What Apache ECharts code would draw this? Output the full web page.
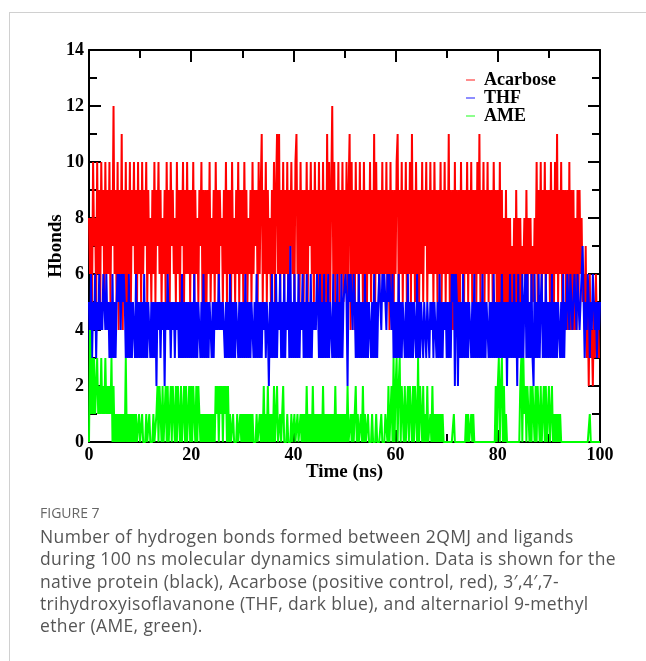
<!DOCTYPE html>
<html>
<head>
<meta charset="utf-8">
<script src="https://cdn.jsdelivr.net/npm/echarts@6/dist/echarts.min.js"></script>
<style>
  html,body{margin:0;padding:0;background:#fff;}
  #frame{position:absolute;left:9px;top:12px;width:637px;height:649px;border-left:1px solid #d0d0d0;border-top:1px solid #d0d0d0;}
  #chart{position:absolute;left:0;top:0;width:646px;height:661px;}
  #fig{position:absolute;left:40px;top:503px;font-family:'Open Sans';font-size:14px;color:#666;}
  #cap{position:absolute;left:40px;top:525px;font-family:'Open Sans';font-size:17.5px;letter-spacing:0.36px;line-height:22.3px;color:#555;white-space:nowrap;}
</style>
</head>
<body>
<div id="frame"></div>
<div id="chart"></div>
<div id="fig">FIGURE 7</div>
<div id="cap">Number of hydrogen bonds formed between 2QMJ and ligands<br>during 100 ns molecular dynamics simulation. Data is shown for the<br>native protein (black), Acarbose (positive control, red), 3′,4′,7-<br>trihydroxyisoflavanone (THF, dark blue), and alternariol 9-methyl<br>ether (AME, green).</div>
<script>
// sampling step of the trajectory (ns)
const step = 0.2;
const seriesNames = ['Acarbose', 'THF', 'AME'];
const xTicks = [0, 20, 40, 60, 80, 100];
const yTicks = [0, 2, 4, 6, 8, 10, 12, 14];

// Acarbose (red), 10 ns blocks, one value per 0.2 ns
const acarbose00 = [8,6,8,5,10,7,8,5,10,6, 9,5,10,7,9,5,10,6,9,6, 10,5,9,7,12,6,9,5,10,4, 9,6,11,4,9,5,10,4,9,6, 10,5,9,7,10,6,9,5,10,6];
const acarbose10 = [9,5,10,6,9,7,10,5,9,6, 8,5,9,6,10,5,9,7,10,6, 9,5,8,6,9,5,10,6,9,5, 10,7,9,6,8,5,10,6,9,5, 9,7,10,5,9,6,10,6,9,5];
const acarbose20 = [9,6,10,5,9,6,8,5,9,7, 10,5,9,4,9,5,9,6,10,5, 8,6,9,5,10,6,9,5,9,7, 8,5,9,6,10,5,9,6,9,5, 10,6,8,5,9,6,10,5,9,6];
const acarbose30 = [9,5,10,6,9,5,8,6,9,5, 10,6,9,7,9,5,10,6,9,11, 5,9,6,10,5,9,6,8,5,9, 6,10,5,9,11,6,11,5,9,6, 10,5,9,6,10,5,9,7,10,6];
const acarbose40 = [9,5,10,11,6,9,5,10,6,9, 5,9,6,10,5,9,7,10,6,9, 5,10,6,9,5,10,6,9,5,10, 6,9,5,11,6,10,5,9,12,6, 10,5,9,6,10,5,9,6,10,5];
const acarbose50 = [9,6,10,4,9,11,4,10,5,9, 4,10,6,9,5,10,6,9,5,10, 6,9,5,9,6,10,5,9,6,11, 5,10,6,9,5,9,6,10,5,9, 6,10,5,9,4,10,5,9,4,9];
const acarbose60 = [6,10,11,5,9,6,10,5,9,6, 10,5,9,6,10,5,11,6,9,5, 10,6,9,5,9,6,10,5,9,7, 10,5,9,6,10,6,9,5,10,6, 9,5,9,6,10,5,9,6,10,5];
const acarbose70 = [9,6,11,5,9,4,9,4,10,4, 9,4,9,5,10,6,9,5,9,6, 10,5,9,6,10,5,9,6,9,5, 10,6,11,5,9,6,10,5,9,6, 10,5,9,6,9,5,10,6,9,5];
const acarbose80 = [9,5,10,4,9,4,8,4,9,4, 8,5,8,4,7,5,8,4,9,5, 8,4,8,5,7,6,8,5,9,5, 8,6,8,5,7,5,8,6,10,5, 9,6,10,5,9,6,10,5,9,6];
const acarbose90 = [9,5,10,6,9,5,10,6,11,5, 9,6,10,5,9,6,9,4,9,4, 10,4,9,4,9,4,8,4,9,5, 9,6,8,5,6,4,7,3,5,2, 6,3,4,2,5,3,6,4,5,3];

// THF (blue)
const thf00 = [5,3,6,3,5,4,6,3, 5,4,6,4,5,4,6,5,4,6,4,5, 3,5,3,6,3,5,3, 5,6,5,6,4,6,5,6,5, 3,5,3,6,3,5,3,5,4,3,6,3,5,3];
const thf10 = [5,3,5,3,6,3,5,3,5,4,3,5,3,5, 3,5,2,5,4,5,3,5,4,5,2,5,4,6,4,5,3,5,4,5,3,5,4,5, 3,5,3,6,3,5,3,5,3,5,3,5];
const thf20 = [3,5,3,6,3,5,3,5,4,3,5,3,6,3,5,3,5,3,5,4,3,5,3, 5,4,5,4,6,4,5,4,5,4, 3,5,3,5,3,6,3,5, 3,5,3,5,4,3,5,3,5];
const thf30 = [3,5,3,6,3,5,3,5,3,5, 4,3,5,3,6,3,5,3,5,3, 5,4,5,3,5,4,2,5,3,6, 3,5,3,6,3,5,4,6,3,5, 3,6,3,5,4,6,3,7,3,5];
const thf40 = [3,6,3,5,3,6,3,5,4,6, 3,5,3,6,3,5,3,6,3,5, 4,5,4,6,5,3,6,3,5,3, 6,3,5,3,6,3,5,4,3,6, 3,5,3,6,3,5,3,6,3,5];
const thf50 = [5,6,5,2,6,5,6,5,4,6, 5,3,5,3,6,3,5,3,5,3, 6,3,5,3,5,4,3,5,3,6, 3,5,3,5,6,5,4,6,5,6, 5,4,6,5,6,5,4,6,3,5];
const thf60 = [3,5,3,6,3,5,3,5,4,3, 5,3,6,3,5,3,5,3,5,4, 3,6,3,5,3,5,4,3,5,4, 3,5,4,3,5,4,5,3,5,4, 3,5,3,6,3,5,3,5,4,5];
const thf70 = [3,5,3,5,3,6,5,6,2,6, 5,2,5,3,5,3,6,3,5,3, 5,3,5,4,3,5,3,6,3,5, 3,5,3,5,3,6,3,5,3,5, 4,3,5,3,5,3,6,3,5,3];
const thf80 = [5,3,5,3,6,3,5,3,5,2, 5,3,6,3,5,3,6,3,5,2, 6,3,5,3,6,3,5,6,3,6, 3,5,3,6,3,2,6,3,5,3, 6,3,5,6,3,5,3,6,3,5];
const thf90 = [3,5,3,6,3,5,3,5,3,5, 4,3,5,3,6,3,5,4,6,5, 4,6,5,4,5,6,5,4,6,5, 4,5,6,7,5,3,5,4,6,5, 3,5,4,6,5,4,5,3,5,4, 5];

// AME (green)
const ame00 = [0,4,1,3, 1,3,1,2,3,1,2,1,3,1,2,1,3,1,2,1,2,1,3, 0,2,0, 1,0,1,0,1,0,1,0,1,0,3,0,1,0,1,0,1,0,1,0,1, 0,0,1];
const ame10 = [0,0,1,0,0,0,1,0,0,1,0,0,0,1,0,0,1, 2,0,2,1,0,2,0,1,2,0,2,0,1,2,0,2,1,0,2,0,2,1,0,2,0,1,2,0,2,0,1,2,0];
const ame20 = [2,0,2,1,0,2,0,2,1,0, 1,0,1,0,1,0,1,0,1,0,1,0,1,0, 2,1,2,0,2,1,2,0,2,1,2,0,2, 0,1,0,0,1,0,0,0,1,0,0,1,0];
const ame30 = [1,0,1,0,1,0,1,0,1,0,1,0, 0,0,1,0,0,1,0, 1,0,2,0,1,0,2,0,1,0,1,0,2, 0,0,2,0,0,1,0,0,2,0, 0,0,1,0,0,0,1,0];
const ame40 = [0,1,0,0,1,0,0,1,0, 1,0,1,0,2,0,1,0,1,0,2,0,1,0,1,0,1,0,1,0,2,0,1,0,1,0,1,0,1,0,1,0,2,0,1,0,1,0,1,0,1];
const ame50 = [0,1,0,2,0,0,1,0,1,0,0,2,0,1,0,0,1,0,2,0,1,0,0,1,0, 0,0,1,0,0,0,1,0,0,0,0,1,0,0,0,1, 1,0,2,0,1,2,0,3,0];
const ame60 = [2,3,0,2,3,0,2,1,0,2,0,1,2,0,2,1,0,2,0,2,1,0,3,0,2,1,0,2,0,1, 0,2,0,0,1,0,2, 0,1,0,1,0,1,0,1,0,1, 0,0,0];
const ame70 = [0,0,0,0,0,0,0,1,0,0, 0,0,0,0,0,0,0,0,0,1, 0,1,0,0,1,0,1,0,0,0, 0,0,0,0,0,0,0,0,0,0, 0,0,0,0,0,0,0,0,2,0];
const ame80 = [2,3,0,2,3,0,2,0,1,0, 0,0,0,0,0,0,0,0,0,0,0,0, 2,3,0,3,1,2,0,2,1,0,2,0,2,1,0,2,0,2,1,0,2,0,1,2,0,2,0,1];
const ame90 = [2,0,1,2,0,1,0,1, 0,1,0,1,0, 0,0,0,0,0,0,0,0,0,0,0,0,0,0,0,0,0,0,0,0,0,0,0,0,0,0,0, 1, 0,0,0,0,0,0,0,0,0, 0];

const acarbose = [].concat(acarbose00, acarbose10, acarbose20, acarbose30, acarbose40, acarbose50, acarbose60, acarbose70, acarbose80, acarbose90);
const thf = [].concat(thf00, thf10, thf20, thf30, thf40, thf50, thf60, thf70, thf80, thf90);
const ame = [].concat(ame00, ame10, ame20, ame30, ame40, ame50, ame60, ame70, ame80, ame90);

function toPairs(vals) { return vals.map((v, i) => [+(i * step).toFixed(1), v]); }

const serif = 'Liberation Serif';
const axisCommon = {
  type: 'value',
  axisLine: { show: true, onZero: false, lineStyle: { color: '#000', width: 2 } },
  axisTick: { show: true, inside: true, length: 12, lineStyle: { color: '#000', width: 2 } },
  minorTick: { show: true, splitNumber: 2, length: 8, lineStyle: { color: '#000', width: 2 } },
  splitLine: { show: false },
  minorSplitLine: { show: false }
};
const labelStyle = { color: '#000', fontFamily: serif, fontWeight: 'bold', fontSize: 18 };

const chart = echarts.init(document.getElementById('chart'), null, { renderer: 'canvas' });
chart.setOption({
  animation: false,
  backgroundColor: 'transparent',
  grid: { left: 89, top: 50, width: 511, height: 392, containLabel: false },
  legend: {
    data: seriesNames,
    orient: 'vertical',
    left: 466, top: 71,
    padding: 0, itemGap: 0,
    icon: 'rect', itemWidth: 9, itemHeight: 1.5,
    itemStyle: { opacity: 0.6 },
    textStyle: Object.assign({}, labelStyle, { lineHeight: 18, padding: [0, 0, 0, 4] }),
    selectedMode: false
  },
  xAxis: [
    Object.assign({}, axisCommon, {
      min: xTicks[0], max: xTicks[xTicks.length - 1], interval: xTicks[1] - xTicks[0], position: 'bottom',
      axisLabel: Object.assign({}, labelStyle, { margin: 4 }),
      name: 'Time (ns)', nameLocation: 'middle', nameGap: 21, nameMoveOverlap: false,
      nameTextStyle: { color: '#000', fontFamily: serif, fontWeight: 'bold', fontSize: 19, verticalAlign: 'top' }
    }),
    Object.assign({}, axisCommon, {
      min: xTicks[0], max: xTicks[xTicks.length - 1], interval: xTicks[1] - xTicks[0], position: 'top',
      axisLabel: { show: false }
    })
  ],
  yAxis: [
    Object.assign({}, axisCommon, {
      min: yTicks[0], max: yTicks[yTicks.length - 1], interval: yTicks[1] - yTicks[0], position: 'left',
      axisLabel: Object.assign({}, labelStyle, { margin: 5 }),
      name: 'Hbonds', nameLocation: 'middle', nameGap: 23, nameRotate: 90, nameMoveOverlap: false,
      nameTextStyle: { color: '#000', fontFamily: serif, fontWeight: 'bold', fontSize: 19, verticalAlign: 'bottom' }
    }),
    Object.assign({}, axisCommon, {
      min: yTicks[0], max: yTicks[yTicks.length - 1], interval: yTicks[1] - yTicks[0], position: 'right',
      axisLabel: { show: false }
    })
  ],
  series: [
    { name: seriesNames[0], type: 'line', data: toPairs(acarbose), color: '#ff0000' },
    { name: seriesNames[1], type: 'line', data: toPairs(thf), color: '#0000ff' },
    { name: seriesNames[2], type: 'line', data: toPairs(ame), color: '#00ff00' }
  ].map(s => Object.assign(s, {
    xAxisIndex: 0, yAxisIndex: 0,
    showSymbol: false, symbol: 'none', silent: true,
    lineStyle: { width: 2, color: s.color, join: 'bevel' },
    itemStyle: { color: s.color },
    emphasis: { disabled: true }
  }))
});
</script>
</body>
</html>
